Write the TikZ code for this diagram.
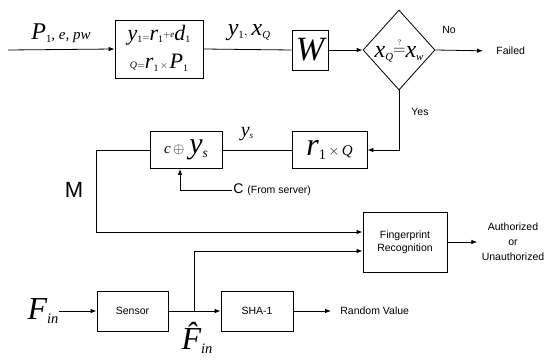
\documentclass[tikz,border=0pt]{standalone}
\usepackage{fontspec}
\setsansfont{Liberation Sans}
\newfontfamily\tm{Liberation Serif}
\newcommand\Iv[1]{{\tm\itshape #1}}
\makeatletter
\newcommand\Sb[1]{\raisebox{-0.12em}{\fontsize{\the\dimexpr 0.45\dimexpr\f@size pt\relax\relax}{0pt}\selectfont\tm #1}}
\makeatother
\newcommand\Sz[1]{\fontsize{#1}{#1}\selectfont}
\usepackage{amsmath}
\usetikzlibrary{arrows.meta,shapes.geometric}
\begin{document}
\begin{tikzpicture}[x=1pt,y=-1pt,
  line width=0.8pt,
  arr/.style={-{Latex[length=6pt,width=4.5pt]}},
  blk/.style={draw,rectangle,inner sep=0pt,align=center},
  lbl/.style={font=\sffamily\fontsize{10.5}{12}\selectfont,inner sep=1pt},
  mth/.style={inner sep=0pt}]
\useasboundingbox (0,0) rectangle (554,361);

% top row
\node[blk,minimum width=88pt,minimum height=58pt] (b1) at (159,49) {};
\node[mth,font=\Sz{22}] (b1a) at (159,35)
  {\Iv{y}\Sb{1}{\Sz{9}=}\Iv{r}\Sb{1}{\Sz{9}\raisebox{0.3em}{+\Iv{e}}}\Iv{d}\Sb{1}};
\node[mth,font=\Sz{22}] (b1b) at (159,63)
  {{\Sz{10}\Iv{Q}=}\Iv{r}\Sb{1}{\Sz{10}\,×\,}\Iv{P}\Sb{1}};
\coordinate (in1) at (8,50);
\node[mth,font=\Sz{24}] (pin) at (61,33) {\Iv{P}\Sb{1}{\Sz{15}\Iv{, e, pw}}};
\node[blk,minimum width=36pt,minimum height=40pt,font=\Sz{34}] (w) at (310,50) {\Iv{W}};
\node[mth,font=\Sz{24}] (yx) at (249,33) {\Iv{y}\Sb{1}{\Sz{14},}\,\Iv{x}\Sb{\Iv{Q}}};
\node[draw,diamond,shape aspect=0.9,minimum width=72pt,minimum height=80pt,inner sep=0pt] (d) at (399,50) {};
\node[mth,font=\Sz{24}] (dq) at (399,50)
  {\Iv{x}\Sb{\Iv{Q}}\raisebox{0.1em}{\Sz{16}$\overset{\scriptscriptstyle ?}{=}$}\Iv{x}\Sb{\Iv{w}}};
\node[lbl,anchor=west] (no) at (441,30) {No};
\node[lbl,anchor=west] (failed) at (495,51) {Failed};

\draw[arr] (in1) -- (b1.west);
\draw (b1.east) -- (w.west);
\draw[arr] (w.east) -- (d.west);
\draw[arr,shorten >=12pt] (d.east) -- (failed.west);

% middle row
\node[blk,minimum width=75pt,minimum height=37pt,font=\Sz{32}] (rq) at (329.5,150)
  {\Iv{r}\Sb{1}{\Sz{15}\,×\,\Iv{Q}}};
\node[blk,minimum width=72pt,minimum height=37pt,font=\Sz{30}] (cy) at (186,150)
  {{\Sz{15}\Iv{c}\,$\oplus$}\,\Iv{y}\Sb{\Iv{s}}};
\node[lbl,anchor=west] (yes) at (410,112) {Yes};
\node[mth,font=\Sz{20}] (ys) at (247,134) {\Iv{y}\Sb{\Iv{s}}};
\draw[arr] (d.south) |- (rq.east);
\draw (rq.west) -- (cy.east);

\node[anchor=west,inner sep=1pt] (cs) at (232,190)
  {\sffamily\Sz{14}C \Sz{10.5}(From server)};
\draw[arr] (cs.west) -| ([xshift=-6pt]cy.south);

\node[font=\sffamily\Sz{22},inner sep=0pt] (m) at (74,190) {M};

\node[blk,minimum width=84pt,minimum height=60pt,font=\sffamily\fontsize{10.5}{13}\selectfont] (fp) at (405,242)
  {Fingerprint\\Recognition};
\node[lbl,align=center,font=\sffamily\fontsize{10.5}{15}\selectfont] (auth) at (513,242)
  {Authorized\\or\\Unauthorized};
\coordinate (mc) at (96,232);
\draw[arr] (cy.west) -| (mc) -- ([yshift=10pt]fp.west);
\draw[arr,shorten >=3pt] (fp.east) -- (auth.west);

% bottom row
\node[mth,font=\Sz{32}] (fin) at (43,311) {\Iv{F}\Sb{\Iv{in}}};
\node[blk,minimum width=71pt,minimum height=40pt,font=\sffamily\Sz{10.5}] (sens) at (132.5,311) {Sensor};
\node[blk,minimum width=72pt,minimum height=40pt,font=\sffamily\Sz{10.5}] (sha) at (257,311) {SHA-1};
\node[lbl,anchor=west] (rv) at (339,311) {Random Value};
\node[mth,font=\Sz{32}] (fh) at (197,338) {\Iv{\^{F}}\Sb{\Iv{in}}};
\coordinate (br) at (194,311);
\draw[arr] (fin.east) -- (sens.west);
\draw[arr] (sens.east) -- (sha.west);
\draw[arr] (br) |- ([yshift=-9pt]fp.west);
\draw[arr,shorten >=8pt] (sha.east) -- (rv.west);
\end{tikzpicture}
\end{document}
